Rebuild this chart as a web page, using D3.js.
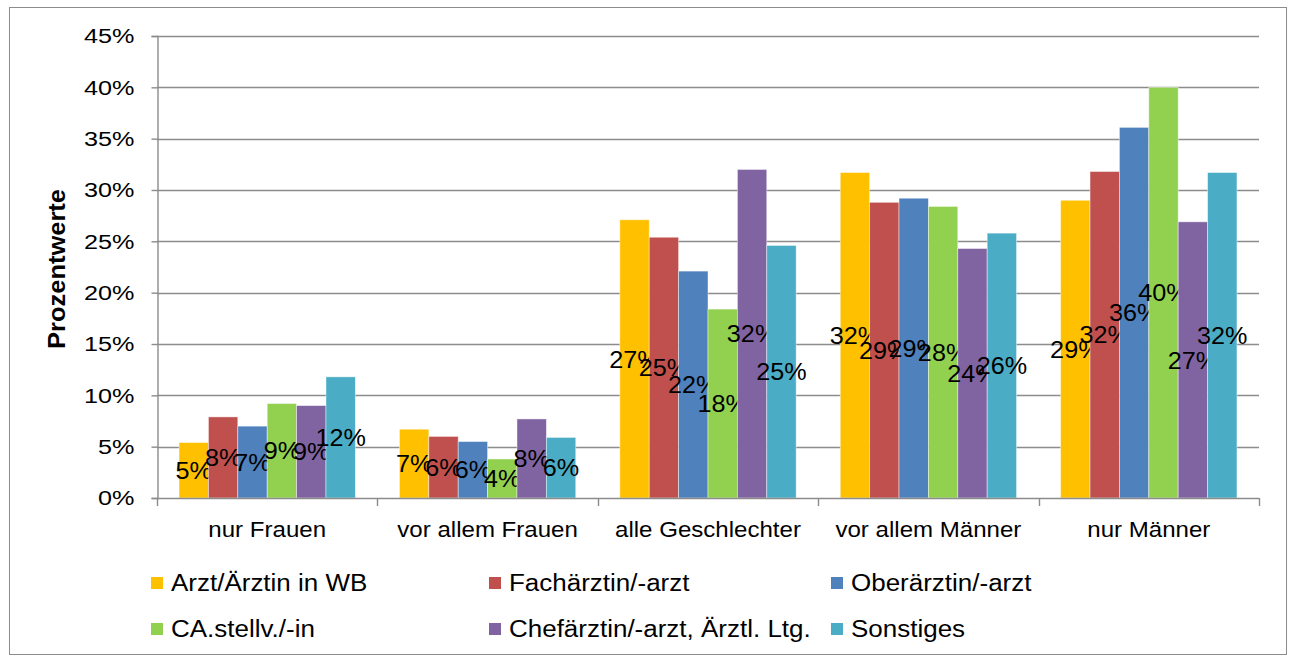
<!DOCTYPE html>
<html>
<head>
<meta charset="utf-8">
<script src="https://cdn.jsdelivr.net/npm/d3@7"></script>
<style>
  html, body { margin: 0; padding: 0; background: #fff; }
  svg { display: block; font-family: "Liberation Sans", Arial, sans-serif; }
</style>
</head>
<body>
<svg id="chart" width="1292" height="659"></svg>
<script>
// Categories along the x axis
const categories = ["nur Frauen", "vor allem Frauen", "alle Geschlechter", "vor allem Männer", "nur Männer"];

// Series (position groups) and their colours
const seriesNames = [
  "Arzt/Ärztin in WB",
  "Fachärztin/-arzt",
  "Oberärztin/-arzt",
  "CA.stellv./-in",
  "Chefärztin/-arzt, Ärztl. Ltg.",
  "Sonstiges"
];
const seriesColors = ["#FFC000", "#C0504D", "#4F81BD", "#92D050", "#8064A2", "#4BACC6"];

// Percent values per series, one entry per category
const arztWB      = [5.4, 6.7, 27.1, 31.7, 29.0];
const facharzt    = [7.9, 6.0, 25.4, 28.8, 31.8];
const oberarzt    = [7.0, 5.5, 22.1, 29.2, 36.1];
const caStellv    = [9.2, 3.8, 18.4, 28.4, 40.0];
const chefarzt    = [9.0, 7.7, 32.0, 24.3, 26.9];
const sonstiges   = [11.8, 5.9, 24.6, 25.8, 31.7];
const seriesValues = [arztWB, facharzt, oberarzt, caStellv, chefarzt, sonstiges];

// Y axis ticks
const yTicks = [0, 5, 10, 15, 20, 25, 30, 35, 40, 45];

const svg = d3.select("#chart");

// Stretch glyphs horizontally by sx while keeping the anchor point in place
function widen(sel, sx) {
  sel.each(function () {
    const t = d3.select(this);
    const x = +t.attr("x") || 0;
    t.attr("x", x / sx).attr("transform", `scale(${sx},1)`);
  });
}

// Outer frame
svg.append("rect")
  .attr("x", 9.5).attr("y", 7.5)
  .attr("width", 1277).attr("height", 647)
  .attr("fill", "#fff").attr("stroke", "#8c8c8c").attr("stroke-width", 1);

const plot = { left: 157, right: 1259, top: 36, bottom: 498 };

const x0 = d3.scaleBand()
  .domain(categories)
  .range([plot.left, plot.right])
  .paddingInner(0).paddingOuter(0);

const bw = x0.bandwidth();
const x1 = d3.scaleBand()
  .domain(d3.range(seriesNames.length))
  .range([bw * 0.1, bw * 0.9])
  .padding(0);

const y = d3.scaleLinear().domain([0, 45]).range([plot.bottom, plot.top]);

// Horizontal gridlines
svg.append("g")
  .selectAll("line")
  .data(yTicks.filter(t => t > 0))
  .join("line")
  .attr("x1", plot.left).attr("x2", plot.right)
  .attr("y1", d => Math.round(y(d)) + 0.5).attr("y2", d => Math.round(y(d)) + 0.5)
  .attr("stroke", "#8c8c8c").attr("stroke-width", 1.4);

// Y axis
const yAxis = svg.append("g")
  .attr("transform", `translate(${plot.left + 0.5},0)`)
  .call(d3.axisLeft(y).tickValues(yTicks).tickSize(6).tickPadding(17).tickFormat(d => d + "%"));
yAxis.select(".domain").attr("stroke", "#8c8c8c").attr("stroke-width", 1.4);
yAxis.selectAll(".tick line").attr("stroke", "#8c8c8c").attr("stroke-width", 1.4);
yAxis.selectAll(".tick text")
  .attr("font-size", 21).attr("fill", "#000")
  .attr("font-family", "Liberation Sans, Arial, sans-serif")
  .call(widen, 1.2);

// Bars
const groups = svg.append("g")
  .selectAll("g")
  .data(categories)
  .join("g")
  .attr("transform", d => `translate(${x0(d)},0)`);

const cells = groups.selectAll("g.cell")
  .data((c, ci) => seriesValues.map((vals, si) => ({ si, v: vals[ci] })))
  .join("g").attr("class", "cell");

cells.append("rect")
  .attr("x", d => x1(d.si))
  .attr("width", x1.bandwidth())
  .attr("y", d => y(d.v))
  .attr("height", d => y(0) - y(d.v))
  .attr("fill", d => seriesColors[d.si])
  .attr("stroke", "rgba(255,255,255,0.55)")
  .attr("stroke-width", 0.8);

// X axis with boundary ticks
const xAxisG = svg.append("g");
xAxisG.append("line")
  .attr("x1", plot.left).attr("x2", plot.right)
  .attr("y1", plot.bottom + 0.5).attr("y2", plot.bottom + 0.5)
  .attr("stroke", "#8c8c8c").attr("stroke-width", 1.4);
const bounds = categories.map(c => x0(c)).concat([plot.right]);
xAxisG.selectAll("line.tk")
  .data(bounds)
  .join("line").attr("class", "tk")
  .attr("x1", d => Math.round(d) + 0.5).attr("x2", d => Math.round(d) + 0.5)
  .attr("y1", plot.bottom).attr("y2", plot.bottom + 8)
  .attr("stroke", "#8c8c8c").attr("stroke-width", 1.4);
xAxisG.selectAll("text")
  .data(categories)
  .join("text")
  .attr("x", d => x0(d) + bw / 2)
  .attr("y", 537)
  .attr("text-anchor", "middle")
  .attr("font-size", 21.5)
  .attr("fill", "#000")
  .text(d => d)
  .call(widen, 1.12);

// Data labels centred inside each bar
cells.append("text")
  .attr("x", d => x1(d.si) + x1.bandwidth() / 2)
  .attr("y", d => (y(d.v) + y(0)) / 2)
  .attr("dy", "0.36em")
  .attr("text-anchor", "middle")
  .attr("font-size", 24)
  .attr("fill", "#000")
  .text(d => Math.round(d.v) + "%")
  .call(widen, 1.05);

// Y axis title
svg.append("text")
  .attr("transform", `translate(65,269) rotate(-90)`)
  .attr("text-anchor", "middle")
  .attr("font-size", 23)
  .attr("font-weight", "bold")
  .attr("fill", "#000")
  .attr("textLength", 160)
  .attr("lengthAdjust", "spacingAndGlyphs")
  .text("Prozentwerte");

// Legend: two rows of three
const legendCols = [151, 489, 831];
const legendRows = [583, 629];
const legend = svg.append("g")
  .selectAll("g")
  .data(seriesNames)
  .join("g")
  .attr("transform", (d, i) => `translate(${legendCols[i % 3]},${legendRows[Math.floor(i / 3)]})`);
legend.append("rect")
  .attr("x", 0).attr("y", -6)
  .attr("width", 12).attr("height", 12)
  .attr("fill", (d, i) => seriesColors[i]);
legend.append("text")
  .attr("x", 20).attr("y", 0)
  .attr("dy", "0.36em")
  .attr("font-size", 23)
  .attr("fill", "#000")
  .text(d => d)
  .call(widen, 1.13);
</script>
</body>
</html>
